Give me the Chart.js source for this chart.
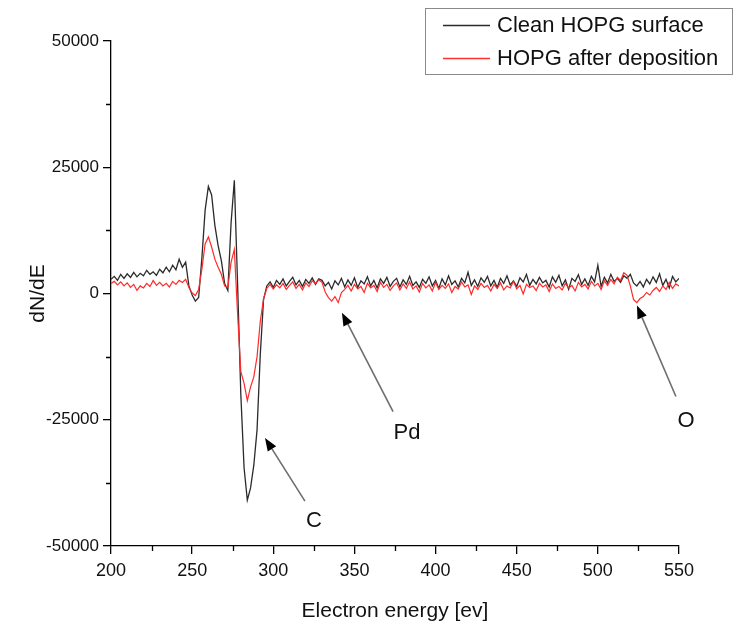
<!DOCTYPE html>
<html>
<head>
<meta charset="utf-8">
<script src="https://cdn.jsdelivr.net/npm/chart.js@4/dist/chart.umd.min.js"></script>
<style>
html,body{margin:0;padding:0;background:#fff;}
canvas{display:block;}
</style>
</head>
<body>
<canvas id="c" width="739" height="628"></canvas>
<script>
// ---- data ----
const energy = [200,202,204,206,208,210,212,214,216,218,220,222,224,226,228,230,232,234,236,238,240,242,244,246,248,250,252,254,256,258,260,262,264,266,268,270,272,274,276,278,280,282,284,286,288,290,292,294,296,298,300,302,304,306,308,310,312,314,316,318,320,322,324,326,328,330,332,334,336,338,340,342,344,346,348,350,352,354,356,358,360,362,364,366,368,370,372,374,376,378,380,382,384,386,388,390,392,394,396,398,400,402,404,406,408,410,412,414,416,418,420,422,424,426,428,430,432,434,436,438,440,442,444,446,448,450,452,454,456,458,460,462,464,466,468,470,472,474,476,478,480,482,484,486,488,490,492,494,496,498,500,502,504,506,508,510,512,514,516,518,520,522,524,526,528,530,532,534,536,538,540,542,544,546,548,550];

const cleanHOPG = [2800,3400,2600,3800,3000,3900,3200,4200,3300,4000,3500,4600,3800,4300,3600,4800,4100,5200,4300,5600,4700,6800,5200,6200,1500,-300,-1500,-800,7000,16500,21200,19500,13500,9500,6500,2000,600,14000,22400,2000,-20000,-34500,-40900,-38500,-34000,-27000,-12000,-1200,1500,2300,1200,2600,1800,2900,1500,2400,3200,1700,2600,1400,2800,2000,3100,1800,2900,2600,1500,2200,900,2500,1700,3000,1300,2700,1600,3100,1200,2500,1900,3300,1500,2600,1100,2900,2000,3200,1400,2400,3000,1300,2700,1800,3400,1600,2300,1200,2800,2000,3300,1500,2600,1000,2900,1700,3500,1800,2500,1300,3000,2100,4200,1600,2700,1400,3100,2200,3400,1500,2600,1200,3000,2000,3500,1700,2500,1400,3100,2300,3800,1600,2800,1900,3200,2100,2600,1300,3300,2200,3600,1500,2700,800,3000,2400,3700,1800,2900,1600,3400,2300,5600,1400,3200,2100,3800,2400,3000,2200,3500,3000,3800,2100,1500,2400,1300,2800,1900,3300,2200,3900,1600,2800,1100,3400,2300,3000];

const afterDeposition = [2000,2400,1700,2300,1500,2100,1200,1800,600,1500,1100,2000,1400,2600,1600,2200,1500,2000,1300,2400,1800,2600,2200,2800,1200,100,-400,800,4800,9800,11200,9200,6800,5200,3800,1500,1200,6200,8700,-4000,-15500,-17800,-21200,-18500,-16500,-12500,-5500,-1000,1000,1800,900,1700,1100,2000,800,1600,2300,1000,1800,700,2100,1400,2500,2000,2700,2200,300,-800,-1500,-600,-1800,200,800,1600,500,1800,900,1400,200,2000,1100,1600,400,2200,1200,1800,600,1500,2100,700,1900,1000,2300,900,1500,300,2000,1100,1700,500,2200,800,1600,1000,1900,200,1400,900,2300,1300,1700,-200,1500,800,2000,1200,1600,500,1800,1000,2100,700,1500,1100,2400,900,1600,-100,1800,1200,1500,600,2000,1300,1700,400,1900,1000,1400,700,2000,1100,1600,500,2200,1300,1800,900,2400,1500,2000,800,2500,1600,2800,1900,3200,2600,4100,3600,1500,-1200,-1800,-1000,-600,200,-300,600,1200,400,1500,800,2200,1000,1900,1500];

const seriesNames = ['Clean HOPG surface','HOPG after deposition'];
const xTicks = [200,250,300,350,400,450,500,550];
const yTicks = [-50000,-25000,0,25000,50000];
const xTitle = 'Electron energy [ev]';
const yTitle = 'dN/dE';

// annotations: label, arrow tip, arrow tail, label position (data coords)
const annotLabels = ['C','Pd','O'];
const annotTip  = [[294.9,-28600],[342.3,-3800],[524.1,-2400]];
const annotTail = [[319.5,-41100],[373.8,-23400],[548.1,-20400]];
const annotText = [[325.1,-45000],[382.4,-27600],[554.3,-25200]];

// ---- build ----
const FONT = "'Liberation Sans', Arial, sans-serif";
const toXY = (vals) => energy.map((e,i) => ({x:e, y:vals[i]}));

const minorTicks = {
  id:'minorTicks',
  afterDraw(chart){
    const {ctx, scales:{x,y}, chartArea:a} = chart;
    ctx.save();
    ctx.strokeStyle = '#000';
    ctx.lineWidth = 1.3;
    ctx.beginPath();
    for (let i=0;i<xTicks.length-1;i++){
      const px = Math.round(x.getPixelForValue((xTicks[i]+xTicks[i+1])/2))+0.5;
      ctx.moveTo(px, a.bottom); ctx.lineTo(px, a.bottom+5);
    }
    for (let i=0;i<yTicks.length-1;i++){
      const py = Math.round(y.getPixelForValue((yTicks[i]+yTicks[i+1])/2))+0.5;
      ctx.moveTo(a.left, py); ctx.lineTo(a.left-5, py);
    }
    ctx.stroke();
    ctx.restore();
  }
};

const annotations = {
  id:'annotations',
  afterDraw(chart){
    const {ctx, scales:{x,y}} = chart;
    ctx.save();
    for (let i=0;i<annotLabels.length;i++){
      const tx = x.getPixelForValue(annotTip[i][0]), ty = y.getPixelForValue(annotTip[i][1]);
      const sx = x.getPixelForValue(annotTail[i][0]), sy = y.getPixelForValue(annotTail[i][1]);
      const ang = Math.atan2(ty-sy, tx-sx);
      const L = 13, W = 5;
      const bx = tx - L*Math.cos(ang), by = ty - L*Math.sin(ang);
      ctx.strokeStyle = '#6e6e6e';
      ctx.lineWidth = 1.6;
      ctx.beginPath(); ctx.moveTo(sx,sy); ctx.lineTo(bx,by); ctx.stroke();
      ctx.fillStyle = '#000';
      ctx.beginPath();
      ctx.moveTo(tx,ty);
      ctx.lineTo(bx + W*Math.sin(ang), by - W*Math.cos(ang));
      ctx.lineTo(bx - W*Math.sin(ang), by + W*Math.cos(ang));
      ctx.closePath(); ctx.fill();
      ctx.fillStyle = '#111';
      ctx.font = "22px " + FONT;
      ctx.textAlign = 'center'; ctx.textBaseline = 'middle';
      ctx.fillText(annotLabels[i], x.getPixelForValue(annotText[i][0]), y.getPixelForValue(annotText[i][1]));
    }
    ctx.restore();
  }
};

const boxLegend = {
  id:'boxLegend',
  afterDraw(chart){
    const ctx = chart.ctx;
    ctx.save();
    ctx.fillStyle = '#fff';
    ctx.fillRect(425.5,8.5,307,66);
    ctx.strokeStyle = '#8a8a8a';
    ctx.lineWidth = 1;
    ctx.strokeRect(425.5,8.5,307,66);
    const cols = ['#2b2b2b','#ff3030'];
    const ys = [25,58];
    ctx.font = "22px " + FONT;
    ctx.textAlign = 'left'; ctx.textBaseline = 'middle';
    for (let i=0;i<2;i++){
      ctx.strokeStyle = cols[i]; ctx.lineWidth = 1.3;
      ctx.beginPath(); ctx.moveTo(443,ys[i]+0.5); ctx.lineTo(490,ys[i]+0.5); ctx.stroke();
      ctx.fillStyle = '#111';
      ctx.fillText(seriesNames[i], 497, ys[i]+1);
    }
    ctx.restore();
  }
};

new Chart(document.getElementById('c'), {
  type:'line',
  data:{
    datasets:[
      {label:seriesNames[0], data:toXY(cleanHOPG), borderColor:'#2b2b2b', borderWidth:1.3, pointRadius:0, tension:0, order:1},
      {label:seriesNames[1], data:toXY(afterDeposition), borderColor:'#ff2a2a', borderWidth:1.2, pointRadius:0, tension:0, order:0}
    ]
  },
  options:{
    responsive:false,
    animation:false,
    devicePixelRatio:1,
    layout:{padding:{top:41, right:60, left:0, bottom:0}},
    plugins:{legend:{display:false}, tooltip:{enabled:false}},
    scales:{
      x:{
        type:'linear', min:200, max:550,
        afterFit(s){ s.height = 82; },
        afterBuildTicks(s){ s.ticks = xTicks.map(v=>({value:v})); },
        ticks:{font:{size:18, family:FONT}, color:'#111', padding:6, maxRotation:0, autoSkip:false, callback:(v)=>String(v)},
        grid:{display:true, drawOnChartArea:false, drawTicks:true, tickLength:8, color:'#000', lineWidth:1.3},
        border:{display:true, color:'#000', width:1.3},
        title:{display:true, text:xTitle, font:{size:21, family:FONT}, color:'#111', padding:{top:6}}
      },
      y:{
        type:'linear', min:-50000, max:50000,
        afterFit(s){ s.width = 111; },
        afterBuildTicks(s){ s.ticks = yTicks.map(v=>({value:v})); },
        ticks:{font:{size:17, family:FONT}, color:'#111', padding:4, autoSkip:false, callback:(v)=>String(v)},
        grid:{display:true, drawOnChartArea:false, drawTicks:true, tickLength:8, color:'#000', lineWidth:1.3},
        border:{display:true, color:'#000', width:1.3},
        title:{display:true, text:yTitle, font:{size:21, family:FONT}, color:'#111', padding:{top:26, bottom:0}}
      }
    }
  },
  plugins:[minorTicks, annotations, boxLegend]
});
</script>
</body>
</html>
